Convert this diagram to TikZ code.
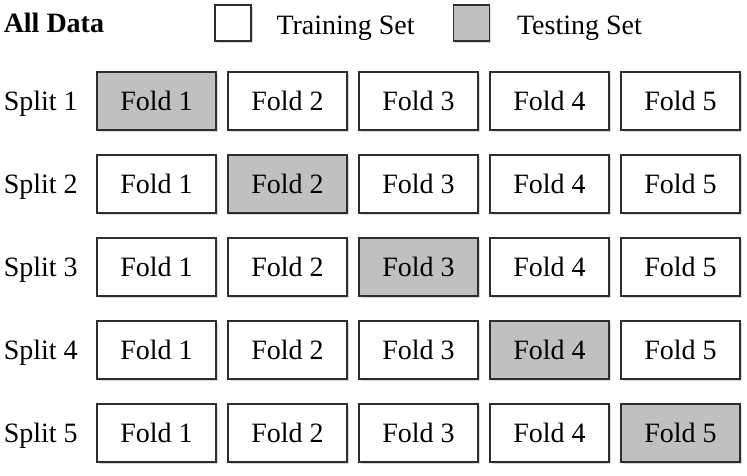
\documentclass[tikz,border=0pt]{standalone}
\usepackage{fontspec}
\setmainfont{Liberation Serif}
\usetikzlibrary{positioning, shadows}
\definecolor{cgrey}{HTML}{C0C0C0}
\definecolor{cline}{HTML}{2E2E2E}
\tikzset{
  every picture/.style={font=\fontsize{28}{32}\selectfont, line width=1.5pt},
  fold/.style={draw=cline, fill=#1, minimum width=119pt, minimum height=58pt, inner sep=0pt,
    drop shadow={shadow xshift=1.5pt, shadow yshift=-2pt, opacity=0.3}},
  fold/.default=white,
  keybox/.style={fold=#1, minimum width=36pt, minimum height=36pt},
  keybox/.default=white,
  rowname/.style={anchor=base west, inner sep=0pt},
}

\begin{document}
\begin{tikzpicture}[x=1pt, y=-1pt]
  \useasboundingbox (0,0) rectangle (747,475);
  % legend
  \node[rowname, font=\fontsize{28}{32}\selectfont\bfseries] (alldata) at (3,32) {All Data};
  \node[keybox] (trainkey) at (233,23) {};
  \node[rowname, anchor=west, right=24pt of trainkey, yshift=-5pt] (trainname) {Training Set};
  \node[keybox=cgrey] (testkey) at (471.5,23) {};
  \node[rowname, anchor=west, right=26pt of testkey, yshift=-5pt] (testname) {Testing Set};
  % five splits, the grey fold is held out for testing
  \foreach \s in {1,...,5} {
    \node[rowname] (split-\s) at (3,{110+(\s-1)*83}) {Split \s};
    \foreach \f in {1,...,5} {
      \ifnum\f=\s \def\fc{cgrey}\else\def\fc{white}\fi
      \node[fold=\fc] (fold-\s-\f) at ({156.5+(\f-1)*131},{101+(\s-1)*83}) {Fold \f};
    }
  }
\end{tikzpicture}
\end{document}
